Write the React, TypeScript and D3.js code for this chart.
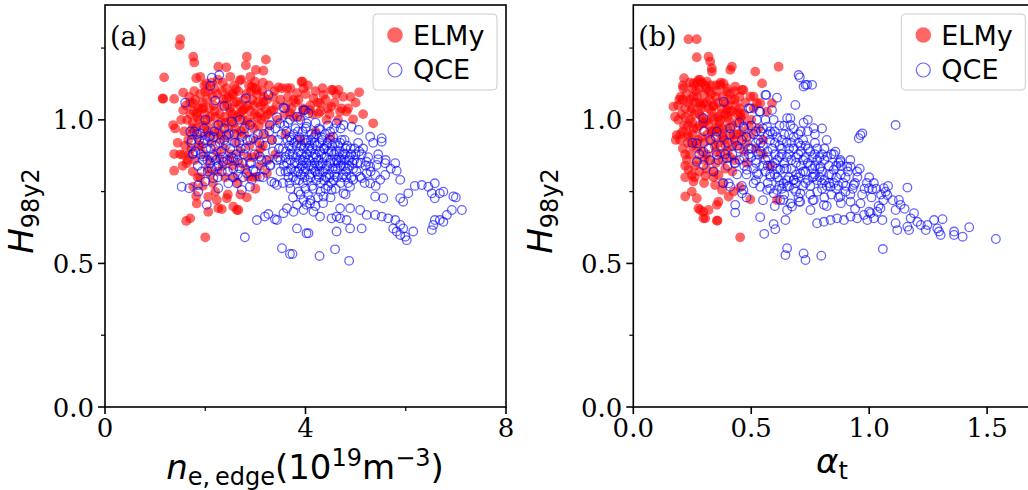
import React from 'react';
import * as d3 from 'd3';

// ---------- data ----------
const yMajor = [0, 0.5, 1.0];
const yMinor = [0.25, 0.75, 1.25];
const xMajorA = [0, 4, 8];
const xMinorA = [2, 6];
const xMajorB = [0, 0.5, 1.0, 1.5];
const legendLabels = ['ELMy', 'QCE'];

const elmyA: [number, number][] = [
  [1.50,1.281],[1.49,1.26],[1.76,1.22],[1.78,1.20],[1.18,1.148],[1.82,1.145],[2.26,1.185],[2.42,1.183],[2.83,1.22],[2.81,1.19],
  [3.21,1.21],[3.01,1.174],[3.16,1.171],[2.99,1.133],[2.69,1.137],[1.16,1.073],[1.38,1.073],[1.56,1.095],[2.00,1.098],[2.02,1.127],
  [2.61,1.107],[2.93,1.116],[3.03,1.104],[3.46,1.113],[3.63,1.110],[3.92,1.133],[3.83,1.093],[1.36,0.982],[1.76,1.058],[1.93,1.040],
  [1.83,1.023],[1.56,1.034],[2.43,1.075],[2.63,1.063],[2.50,1.029],[2.76,1.034],[3.16,1.063],[3.36,1.034],[3.09,1.023],[3.76,1.069],
  [3.96,1.034],[3.69,1.023],[1.38,0.881],[1.56,0.878],[1.63,0.849],[1.38,0.823],[1.76,0.767],[1.82,0.735],[1.83,0.709],[2.06,0.732],
  [2.23,0.721],[2.06,0.680],[2.33,0.689],[2.43,0.727],[2.56,0.698],[2.66,0.686],[2.83,0.730],[2.86,0.802],[3.03,0.802],[3.23,0.814],
  [1.70,0.657],[1.62,0.648],[2.00,0.591],[3.94,1.133],[3.96,1.110],[4.36,1.087],[4.55,1.104],[5.07,1.096],[4.16,1.075],[4.29,1.058],
  [4.52,1.046],[4.69,1.029],[4.82,1.029],[4.95,1.002],[5.35,0.988],[4.42,1.0],[4.09,1.034],[4.26,1.023],[4.66,1.104],[4.52,1.104],
  [1.15,1.075],[2.26,0.692],[2.63,0.686],
  [1.62,1.05],[1.70,1.02],[1.75,0.99],[1.80,1.07],[1.88,1.00],[1.95,1.06],[2.02,0.98],[2.08,1.04],[2.15,1.08],[2.20,1.01],
  [2.27,0.96],[2.33,1.05],[2.40,0.99],[2.47,1.08],[2.55,1.02],[2.60,0.97],[2.68,1.05],[2.75,1.00],[2.82,1.09],[2.90,1.03],
  [2.97,0.97],[3.05,1.06],[3.12,1.00],[3.20,1.04],[3.28,0.98],[1.58,0.96],[1.66,0.93],[1.72,0.90],[1.85,0.94],[1.92,0.91],
  [2.00,0.95],[2.12,0.92],[2.22,0.89],[2.30,0.93],[2.38,0.90],[2.45,0.94],[2.52,0.88],[2.62,0.92],[2.70,0.89],[2.78,0.95],
  [2.88,0.91],[2.95,0.87],[3.02,0.93],[3.10,0.90],[3.18,0.95],[1.78,1.10],[1.98,1.12],[2.18,1.11],[2.35,1.13],[2.58,1.12],
  [2.72,1.14],[3.00,1.11],[3.15,1.13],[3.35,1.08],[3.42,1.05],[3.50,1.07],[3.58,1.02],[3.65,1.08],[3.72,1.04],[3.80,1.06],
  [3.88,1.01],[4.00,1.09],[4.10,1.05],[4.20,1.10],[4.30,1.03],[4.40,1.07],[4.48,1.02],[4.58,1.06],[4.65,1.00],[4.75,1.08],
  [4.85,1.04],[5.00,1.06],[5.15,1.02],[1.50,0.88],[1.55,0.84],[1.65,0.86],[1.75,0.82],[1.90,0.80],[2.05,0.83],[2.15,0.78],
  [2.25,0.82],[2.40,0.80],[2.55,0.84],[2.65,0.78],[2.80,0.83],[2.95,0.80],[3.10,0.84],[3.25,0.86],[3.40,0.88],[1.45,0.92],
  [1.40,0.97],[1.52,1.00],[2.45,0.74],[2.20,0.75],[1.95,0.77],[2.70,0.74],[3.00,0.76],[3.60,0.95],[3.90,0.93],[4.20,0.96],[4.50,0.94],
  [1.64,1.00],[1.68,1.08],[1.73,0.95],[1.77,1.03],[1.81,0.97],[1.86,1.04],[1.90,1.09],[1.94,0.98],[1.99,1.02],[2.03,1.07],
  [2.06,0.96],[2.10,1.01],[2.13,1.13],[2.17,1.05],[2.21,0.98],[2.24,1.09],[2.29,1.02],[2.31,0.95],[2.36,1.07],[2.39,1.01],
  [2.42,1.11],[2.46,0.97],[2.49,1.04],[2.53,1.09],[2.57,0.99],[2.59,1.06],[2.64,1.01],[2.66,1.10],[2.71,0.96],[2.73,1.03],
  [2.77,1.07],[2.80,0.98],[2.85,1.05],[2.87,1.12],[2.92,0.99],[2.94,1.07],[2.99,1.02],[3.03,1.09],[3.07,0.98],[3.11,1.05],
  [3.14,1.10],[3.19,1.01],[3.23,1.07],[3.27,1.12],[3.31,1.03],[3.38,1.10],[3.44,1.00],[3.53,1.11],[3.61,1.05],[3.70,1.11],
  [3.77,1.01],[3.86,1.07],[3.95,1.04],[4.05,1.12],[4.14,1.02],[4.24,1.06],[4.34,1.11],[4.44,1.04],[4.61,1.09],[4.72,1.04],
  [4.90,1.08],[1.68,0.88],[1.79,0.86],[1.97,0.88],[2.09,0.86],[2.28,0.87],[2.48,0.86],[2.67,0.85],[2.85,0.87],[3.05,0.88],
  [1.60,0.91],[2.35,0.84],[2.58,0.80],[2.10,0.81],[1.85,0.80],[3.15,0.91],[3.33,0.93],
  [1.70,1.06],[1.84,1.01],[1.96,1.04],[2.07,1.10],[2.19,1.03],[2.32,0.99],[2.44,1.05],[2.56,1.09],[2.67,1.02],[2.79,1.04],
  [2.91,1.10],[3.04,1.01],[1.74,0.97],[1.87,0.91],[2.04,1.00],[2.16,0.95],[2.34,1.10],[2.51,1.00],[2.63,0.95],[2.84,1.00],
  [2.96,1.05],[3.17,1.08],[3.25,1.02],[2.25,1.14],[2.50,1.15],[2.90,1.15],[1.90,1.15],
];

const qceA: [number, number][] = [
  [2.13,1.147],[2.28,1.156],[2.10,1.118],[1.60,1.060],[2.20,1.067],[2.38,1.048],[2.81,1.075],[3.26,1.087],[3.56,1.042],[3.96,1.034],
  [2.00,1.000],[2.26,0.982],[2.53,0.994],[2.69,1.000],[2.89,0.982],[1.70,0.959],[1.90,0.953],[2.10,0.944],[2.43,0.947],[2.73,0.941],
  [2.96,0.936],[3.16,0.951],[3.29,0.982],[3.43,1.009],[3.49,0.988],[3.69,1.000],[3.83,1.011],[4.02,0.976],[3.59,1.040],[1.73,0.930],
  [1.96,0.918],[1.53,0.767],[1.68,0.762],[1.86,0.750],[1.86,0.773],[2.00,0.785],[2.16,0.797],[2.26,0.762],[2.46,0.779],[2.63,0.779],
  [2.73,0.756],[2.89,0.767],[2.93,0.791],[3.09,0.802],[3.19,0.826],[3.29,0.843],[3.43,0.860],[3.32,0.785],[3.43,0.773],[2.03,0.704],
  [1.76,0.884],[1.96,0.872],[2.16,0.878],[2.10,0.849],[2.23,0.837],[2.36,0.854],[2.56,0.866],[2.69,0.831],[2.89,0.849],[3.09,0.872],
  [2.96,0.826],[2.83,0.814],[3.03,0.651],[3.19,0.663],[3.26,0.672],[3.39,0.654],[3.43,0.651],[3.56,0.675],[3.63,0.692],[3.76,0.680],
  [3.83,0.704],[3.96,0.686],[4.02,0.704],[3.83,0.622],[4.02,0.605],[2.79,0.591],[3.53,0.553],[3.69,0.533],[3.74,0.533],[4.28,0.526],
  [4.59,0.549],[4.87,0.509],[3.99,1.034],[4.06,1.023],[4.62,0.988],[4.76,0.982],[4.92,0.976],[5.06,0.965],[5.29,0.941],[5.52,0.936],
  [5.52,0.924],[5.45,0.863],[5.59,0.849],[5.79,0.849],[5.22,0.854],[4.29,0.965],[4.49,0.959],[4.02,0.988],[5.82,0.823],[5.89,0.791],
  [5.59,0.808],[5.39,0.808],[5.22,0.814],[5.12,0.797],[5.29,0.779],[5.49,0.791],[5.39,0.733],[5.55,0.727],[5.89,0.727],[5.95,0.715],
  [6.05,0.744],[6.18,0.770],[6.32,0.773],[6.45,0.767],[6.58,0.779],[6.52,0.744],[6.68,0.744],[6.58,0.727],[6.75,0.750],[6.95,0.733],
  [7.00,0.730],[7.12,0.686],[6.92,0.686],[6.82,0.669],[6.68,0.651],[6.58,0.651],[6.52,0.616],[6.55,0.634],[6.75,0.645],[4.69,0.692],
  [4.89,0.692],[5.09,0.686],[5.22,0.669],[5.39,0.669],[5.52,0.663],[5.65,0.657],[5.79,0.651],[4.62,0.663],[4.52,0.657],[4.82,0.651],
  [5.12,0.622],[4.89,0.622],[4.69,0.657],[4.29,0.663],[4.16,0.680],[4.09,0.709],[3.96,0.721],[4.36,0.733],[4.52,0.756],[4.76,0.744],
  [4.89,0.767],[4.95,0.791],[5.09,0.802],[5.29,0.837],[5.42,0.843],[5.82,0.611],[5.89,0.599],[5.99,0.593],[6.02,0.581],[6.15,0.611],
  [4.06,0.605],[4.62,0.611],[5.75,0.622],[5.95,0.622],[5.89,0.634],
  [1.72,0.92],[1.80,0.89],[1.88,0.93],[1.95,0.86],[2.02,0.90],[2.08,0.94],[2.14,0.87],[2.20,0.91],[2.26,0.84],[2.32,0.89],
  [2.38,0.93],[2.44,0.86],[2.50,0.90],[2.56,0.83],[2.62,0.88],[2.68,0.92],[2.74,0.85],[2.80,0.90],[1.85,0.84],[2.05,0.82],
  [2.25,0.80],[2.45,0.82],[2.65,0.81],[1.78,0.96],[1.98,0.97],[2.18,0.96],[2.38,0.97],[2.58,0.95],[2.78,0.97],[2.90,0.93],
  [2.98,0.88],[3.05,0.95],[3.12,0.86],[3.20,0.91],[3.28,0.96],[3.35,0.89],[3.45,0.93],[3.50,0.86],[3.55,0.90],[3.60,0.82],
  [3.62,0.96],[3.68,0.88],[3.72,0.93],[3.75,0.80],[3.78,0.85],[3.82,0.91],[3.85,0.96],[3.88,0.83],[3.92,0.88],[3.95,0.78],
  [3.98,0.93],[4.02,0.85],[4.05,0.90],[4.08,0.81],[4.12,0.95],[4.15,0.87],[4.18,0.92],[4.22,0.79],[4.25,0.84],[4.28,0.89],
  [4.32,0.94],[4.35,0.82],[4.38,0.87],[4.42,0.91],[4.45,0.77],[4.48,0.85],[4.52,0.89],[4.55,0.94],[4.58,0.81],[4.62,0.86],
  [4.65,0.91],[4.70,0.84],[4.74,0.88],[4.78,0.93],[4.82,0.80],[4.86,0.86],[4.90,0.90],[4.95,0.83],[5.00,0.88],[5.05,0.92],
  [5.10,0.85],[3.90,0.74],[4.10,0.72],[4.30,0.75],[4.50,0.73],[4.20,0.70],[4.00,0.76],[3.70,0.76],[3.55,0.78],[4.60,0.76],
  [4.80,0.74],[3.40,0.97],[3.65,0.99],[3.90,1.00],[4.20,0.99],[4.45,0.98],[4.70,0.97],[5.15,0.90],[5.25,0.87],[5.35,0.92],
  [5.45,0.88],[5.30,0.82],[5.60,0.86],[5.70,0.83],[5.18,0.78],[5.40,0.77],[3.00,0.82],[3.15,0.80],[3.30,0.84],[3.38,0.78],
  [3.47,0.90],[3.52,0.95],[3.57,0.84],[3.61,0.89],[3.64,0.93],[3.66,0.80],[3.70,0.86],[3.73,0.90],[3.76,0.95],[3.79,0.82],
  [3.81,0.87],[3.84,0.93],[3.87,0.79],[3.89,0.86],[3.91,0.91],[3.94,0.96],[3.97,0.82],[3.99,0.87],[4.01,0.92],[4.04,0.79],
  [4.06,0.84],[4.09,0.89],[4.11,0.93],[4.13,0.77],[4.16,0.83],[4.19,0.88],[4.21,0.95],[4.24,0.81],[4.26,0.86],[4.29,0.92],
  [4.31,0.78],[4.34,0.85],[4.36,0.90],[4.39,0.95],[4.41,0.80],[4.43,0.84],[4.46,0.89],[4.49,0.93],[4.51,0.78],[4.54,0.83],
  [4.57,0.88],[4.59,0.92],[4.63,0.80],[4.66,0.85],[4.68,0.89],[4.72,0.93],[4.75,0.81],[4.77,0.86],[4.80,0.90],[4.84,0.83],
  [4.88,0.87],[4.92,0.80],[4.97,0.86],[5.02,0.82],[5.07,0.89],[3.58,0.98],[3.80,0.97],[4.00,0.97],[4.27,0.97],[4.57,0.97],
  [3.68,0.78],[3.86,0.75],[4.05,0.74],[4.25,0.73],[4.40,0.76],[4.70,0.78],[4.15,0.76],[3.75,0.73],[4.35,0.71],
  [1.75,0.88],[1.83,0.95],[1.91,0.88],[1.99,0.93],[2.04,0.86],[2.11,0.90],[2.17,0.94],[2.22,0.86],[2.29,0.92],[2.35,0.87],
  [2.41,0.91],[2.47,0.95],[2.53,0.87],[2.59,0.92],[2.65,0.86],[2.71,0.90],[2.77,0.88],[2.84,0.93],[1.93,0.82],[2.13,0.83],
  [2.33,0.82],[2.55,0.80],[2.75,0.80],[2.92,0.85],[3.08,0.92],[3.22,0.86],[3.33,0.93],
  [3.63,0.85],[3.67,0.91],[3.71,0.83],[3.74,0.88],[3.77,0.92],[3.80,0.79],[3.83,0.85],[3.86,0.89],[3.88,0.94],[3.90,0.81],
  [3.93,0.84],[3.96,0.90],[3.98,0.80],[4.00,0.83],[4.03,0.88],[4.05,0.93],[4.07,0.86],[4.10,0.80],[4.12,0.84],[4.14,0.90],
  [4.17,0.94],[4.20,0.82],[4.22,0.87],[4.23,0.91],[4.27,0.80],[4.30,0.84],[4.32,0.88],[4.33,0.93],[4.37,0.79],[4.40,0.83],
  [4.42,0.87],[4.44,0.92],[4.47,0.81],[4.50,0.86],[4.53,0.91],[4.56,0.79],[4.58,0.85],[4.61,0.89],[4.64,0.83],[4.67,0.87],
  [4.69,0.92],[4.73,0.80],[4.76,0.84],[4.79,0.88],[4.83,0.91],[4.85,0.78],[4.87,0.84],[4.91,0.88],[4.94,0.85],[4.98,0.90],
  [3.60,0.87],[3.65,0.82],[3.69,0.94],[3.85,0.82],[3.95,0.86],[4.08,0.91],[4.18,0.85],[4.28,0.82],[4.38,0.90],[4.48,0.80],
  [4.60,0.83],[4.71,0.86],[4.81,0.82],[3.50,0.82],[3.45,0.87],[5.03,0.85],[5.12,0.88],[5.20,0.84],
];

const elmyB: [number, number][] = [
  [0.234,1.281],[0.269,1.281],[0.319,1.22],[0.326,1.203],[0.333,1.180],[0.333,1.168],[0.269,1.218],[0.418,1.185],[0.411,1.174],[0.517,1.168],
  [0.616,1.185],[0.215,1.145],[0.212,1.110],[0.276,1.139],[0.312,1.133],[0.368,1.122],[0.397,1.098],[0.461,1.104],[0.510,1.081],[0.538,1.058],
  [0.567,1.029],[0.588,1.058],[0.170,1.046],[0.184,0.947],[0.198,0.930],[0.227,0.860],[0.220,0.733],[0.248,0.750],[0.283,0.686],[0.305,0.657],
  [0.354,0.649],[0.453,0.591],[0.496,0.723],[0.609,0.721],[0.546,1.127],[0.177,1.011],[0.255,1.127],[0.283,1.139],[0.383,1.127],[0.432,1.116],
  [0.467,1.104],[0.496,1.081],[0.524,1.058],[0.255,1.081],[0.297,1.058],[0.340,1.046],[0.397,1.034],[0.453,1.023],[0.234,0.826],[0.248,0.808],
  [0.255,0.785],[0.305,0.805],[0.340,0.820],[0.361,0.808],[0.347,0.773],[0.376,0.756],[0.383,0.779],[0.269,0.727],[0.276,0.692],[0.297,0.680],
  [0.319,0.686],[0.297,0.657],[0.354,0.704],[0.361,0.715],[0.404,0.733],[0.425,0.750],[0.453,0.765],[0.357,0.649],
  [0.20,1.08],[0.22,1.04],[0.24,1.00],[0.26,1.06],[0.28,1.02],[0.30,1.09],[0.32,0.98],[0.34,1.05],[0.36,1.01],[0.38,1.08],
  [0.40,0.97],[0.42,1.03],[0.44,0.99],[0.21,0.96],[0.23,0.92],[0.25,0.95],[0.27,0.90],[0.29,0.94],[0.31,0.88],[0.33,0.93],
  [0.35,0.89],[0.37,0.95],[0.39,0.91],[0.41,0.87],[0.43,0.93],[0.46,0.96],[0.48,0.92],[0.19,1.00],[0.18,0.93],[0.25,1.11],
  [0.29,1.13],[0.33,1.12],[0.37,1.13],[0.27,0.86],[0.31,0.83],[0.35,0.85],[0.39,0.83],[0.43,0.86],[0.24,0.88],[0.22,0.84],
  [0.26,0.80],[0.30,0.78],[0.28,0.98],[0.32,1.04],[0.36,0.97],[0.40,1.05],[0.23,1.06],[0.45,1.08],[0.47,1.02],[0.50,0.95],
  [0.52,0.90],[0.48,0.85],[0.55,0.88],[0.58,0.84],[0.50,1.00],
  [0.205,1.02],[0.215,0.98],[0.225,1.09],[0.235,0.94],[0.245,1.03],[0.255,0.97],[0.265,1.10],[0.275,0.93],[0.285,1.05],[0.295,0.99],
  [0.305,1.12],[0.315,0.95],[0.325,1.07],[0.335,1.01],[0.345,0.91],[0.355,1.10],[0.365,0.99],[0.375,1.04],[0.385,0.93],[0.395,1.11],
  [0.405,1.00],[0.415,1.07],[0.425,0.95],[0.435,1.05],[0.445,0.91],[0.455,1.01],[0.465,0.94],[0.475,1.06],[0.21,0.90],[0.23,0.98],
  [0.25,1.04],[0.27,1.08],[0.29,0.89],[0.31,1.00],[0.33,1.09],[0.35,0.97],[0.37,0.88],[0.39,1.02],[0.41,0.94],[0.43,1.10],
  [0.24,1.13],[0.28,1.11],[0.32,0.86],[0.36,1.06],[0.40,0.89],[0.44,1.02],[0.20,0.95],[0.26,0.84],[0.34,0.80],[0.22,0.80],
  [0.28,0.82],[0.42,0.82],[0.38,0.86],[0.30,0.86],[0.19,1.05],[0.49,0.98],[0.51,1.04],[0.53,0.97],[0.47,0.89],[0.55,0.93],
  [0.195,1.07],[0.21,1.12],[0.22,1.01],[0.23,0.95],[0.24,1.07],[0.25,0.91],[0.26,1.02],[0.27,0.97],[0.28,1.06],[0.29,1.01],
  [0.30,0.92],[0.31,1.06],[0.32,1.10],[0.33,0.96],[0.34,1.00],[0.35,1.08],[0.36,0.92],[0.37,1.02],[0.38,0.97],[0.39,1.06],
  [0.40,1.01],[0.41,1.09],[0.42,0.98],[0.43,1.07],[0.44,0.95],[0.45,1.04],[0.46,1.00],[0.22,0.88],[0.26,0.92],[0.30,0.99],
  [0.34,0.96],[0.38,0.94],[0.42,0.91],[0.27,1.13],[0.31,1.11],[0.35,1.12],[0.21,1.07],[0.25,0.99],[0.29,1.04],[0.33,1.03],
  [0.37,1.00],[0.41,1.03],
];

const qceB: [number, number][] = [
  [0.701,1.156],[0.706,1.148],[0.737,1.122],[0.758,1.122],[0.722,1.116],[0.730,1.122],[0.564,1.087],[0.609,1.077],[0.687,1.052],[0.535,1.029],
  [0.496,1.040],[0.297,1.006],[0.297,0.889],[1.112,0.982],[0.963,0.947],[0.971,0.953],[0.956,0.936],[0.722,0.990],[0.765,0.971],[0.666,1.006],
  [0.666,0.982],[0.857,0.889],[0.822,0.872],[0.878,0.860],[0.921,0.837],[0.383,1.063],[0.489,1.040],[0.538,1.029],[0.560,1.087],[0.588,1.034],
  [0.595,1.000],[0.354,0.959],[0.411,0.971],[0.467,0.976],[0.524,1.000],[0.567,0.976],[0.652,1.006],[0.269,0.918],[0.326,0.930],[0.297,0.843],
  [0.404,0.779],[0.411,0.767],[0.461,0.744],[0.467,0.756],[0.432,0.704],[0.432,0.677],[0.538,0.661],[0.595,0.637],[0.602,0.619],[0.555,0.603],
  [0.645,0.651],[0.652,0.553],[0.645,0.529],[0.269,0.854],[0.326,0.860],[0.354,0.878],[0.397,0.866],[0.432,0.849],[0.482,0.826],[0.510,0.779],
  [0.538,0.767],[0.567,0.756],[0.595,0.744],[0.623,0.721],[0.524,0.814],[0.581,0.802],[0.623,0.826],[0.637,0.779],[0.609,0.756],[0.935,0.773],
  [0.999,0.762],[1.013,0.758],[1.062,0.762],[1.070,0.750],[1.077,0.738],[1.162,0.764],[1.126,0.721],[1.133,0.704],[1.112,0.686],[1.048,0.692],
  [1.034,0.680],[1.006,0.675],[0.978,0.669],[0.949,0.657],[0.921,0.663],[0.893,0.651],[0.864,0.657],[0.836,0.651],[0.808,0.645],[0.779,0.640],
  [0.751,0.686],[0.708,0.715],[0.673,0.698],[0.652,0.686],[1.190,0.675],[1.176,0.657],[1.204,0.645],[1.169,0.616],[1.162,0.628],[1.119,0.616],
  [1.112,0.640],[1.247,0.634],[1.275,0.651],[1.311,0.654],[1.289,0.622],[1.303,0.599],[1.296,0.611],[1.360,0.611],[1.396,0.593],[1.360,0.599],
  [1.424,0.626],[1.537,0.585],[1.240,0.616],[1.219,0.634],[1.056,0.651],[1.020,0.657],[0.992,0.651],[0.722,0.535],[0.730,0.512],[0.797,0.527],
  [1.058,0.550],[0.949,0.820],[0.907,0.837],[0.878,0.854],[0.850,0.826],[0.793,0.837],[0.765,0.802],[0.708,0.814],[0.680,0.791],[0.652,0.767],
  [0.637,0.721],[0.836,0.767],[0.878,0.733],[0.921,0.715],[0.963,0.709],[0.808,0.704],[0.765,0.721],[0.708,0.744],[0.666,0.709],[0.703,0.715],
  [0.45,0.90],[0.48,0.94],[0.50,0.87],[0.52,0.92],[0.54,0.96],[0.55,0.84],[0.57,0.89],[0.58,0.93],[0.60,0.81],[0.61,0.86],
  [0.62,0.91],[0.64,0.95],[0.65,0.83],[0.66,0.88],[0.68,0.79],[0.69,0.85],[0.70,0.92],[0.72,0.82],[0.73,0.87],[0.74,0.96],
  [0.76,0.80],[0.77,0.84],[0.78,0.90],[0.80,0.78],[0.81,0.86],[0.82,0.93],[0.84,0.81],[0.85,0.88],[0.87,0.77],[0.88,0.84],
  [0.90,0.80],[0.92,0.86],[0.94,0.78],[0.96,0.83],[0.98,0.76],[1.00,0.80],[1.02,0.78],[1.05,0.74],[1.08,0.77],[0.50,0.98],
  [0.56,1.00],[0.62,0.98],[0.68,0.97],[0.74,1.00],[0.80,0.97],[0.42,0.88],[0.40,0.84],[0.44,0.81],[0.36,0.86],[0.32,0.90],
  [0.28,0.88],[0.34,0.82],[0.38,0.78],[0.46,0.77],[0.52,0.79],[0.58,0.76],[0.64,0.74],[0.70,0.73],[0.76,0.72],[0.82,0.70],
  [0.88,0.71],[0.94,0.69],[1.00,0.68],[1.04,0.70],[1.10,0.72],[1.15,0.69],[0.25,0.92],[0.30,0.96],[0.35,0.94],[0.40,0.92],
  [0.45,0.99],[0.52,0.85],[0.60,0.88],[0.66,0.80],[0.72,0.77],[0.78,0.75],[0.84,0.74],[0.90,0.75],[0.60,0.70],[0.55,0.72],[0.48,0.73],
  [0.46,0.93],[0.47,0.87],[0.49,0.90],[0.51,0.95],[0.51,0.83],[0.53,0.88],[0.54,0.92],[0.56,0.86],[0.57,0.95],[0.58,0.81],
  [0.59,0.90],[0.60,0.85],[0.61,0.94],[0.62,0.79],[0.63,0.88],[0.64,0.83],[0.65,0.92],[0.66,0.77],[0.67,0.86],[0.68,0.90],
  [0.69,0.81],[0.70,0.88],[0.71,0.84],[0.72,0.93],[0.73,0.78],[0.74,0.85],[0.75,0.89],[0.76,0.83],[0.77,0.92],[0.78,0.79],
  [0.79,0.87],[0.80,0.82],[0.81,0.90],[0.82,0.77],[0.83,0.84],[0.84,0.88],[0.86,0.80],[0.87,0.85],[0.89,0.78],[0.91,0.82],
  [0.93,0.76],[0.95,0.80],[0.97,0.74],[0.99,0.78],[1.01,0.73],[1.03,0.76],[1.06,0.72],[0.53,0.81],[0.57,0.78],[0.63,0.76],
  [0.69,0.75],[0.75,0.74],[0.81,0.73],[0.87,0.73],[0.55,0.97],[0.60,0.96],[0.66,0.95],[0.71,0.96],[0.77,0.95],[0.48,0.81],
  [0.43,0.85],[0.39,0.88],[0.37,0.91],[0.41,0.95],[0.47,0.97],
  [0.50,0.90],[0.52,0.86],[0.53,0.93],[0.55,0.91],[0.56,0.82],[0.57,0.87],[0.58,0.96],[0.59,0.84],[0.60,0.92],[0.61,0.80],
  [0.62,0.87],[0.63,0.93],[0.64,0.85],[0.65,0.79],[0.66,0.90],[0.67,0.83],[0.68,0.94],[0.69,0.87],[0.70,0.80],[0.71,0.91],
  [0.72,0.86],[0.73,0.82],[0.74,0.90],[0.75,0.77],[0.76,0.87],[0.77,0.81],[0.78,0.86],[0.79,0.83],[0.80,0.88],[0.81,0.79],
  [0.83,0.81],[0.85,0.78],[0.86,0.84],[0.88,0.81],[0.90,0.77],[0.54,0.89],[0.59,0.95],[0.63,0.90],[0.67,0.92],[0.71,0.89],
  [0.75,0.84],[0.79,0.80],[0.83,0.78],[0.57,0.84],[0.61,0.83],[0.65,0.87],[0.69,0.78],[0.73,0.91],[0.77,0.88],[0.49,0.88],
  [0.47,0.84],[0.45,0.86],[0.44,0.91],[0.52,0.96],[0.64,0.98],[0.70,0.95],[0.62,0.77],[0.68,0.76],[0.74,0.79],[0.80,0.76],
  [0.86,0.76],[0.92,0.74],
];

// ---------- layout ----------
const W = 1028, H = 490;
const TOP = 5, BOTTOM = 407, PW = 401;
const SERIF = '"DejaVu Serif", serif';
const SANS = '"DejaVu Sans", sans-serif';
const RED = '#ff0000', BLUE = '#0000ff';

type PanelProps = {
  left: number;
  xMax: number;
  xMajor: number[];
  xMinor: number[];
  xFmt: (v: number) => string;
  elmy: [number, number][];
  qce: [number, number][];
  tag: string;
  yLabelX: number;
  xLabel: React.ReactNode;
};

function Panel(p: PanelProps) {
  const x = d3.scaleLinear().domain([0, p.xMax]).range([p.left, p.left + PW]);
  const y = d3.scaleLinear().domain([0, 1.4]).range([BOTTOM, TOP]);
  const right = p.left + PW;
  const fmtY = d3.format('.1f');
  const legX = right - 9 - 124;
  return (
    <g>
      <g>
        {p.elmy.map((d, i) => (
          <circle key={'e' + i} cx={x(d[0])} cy={y(d[1])} r={4.9} fill={RED} fillOpacity={0.6} />
        ))}
      </g>
      <g>
        {p.qce.map((d, i) => (
          <circle key={'q' + i} cx={x(d[0])} cy={y(d[1])} r={4.3} fill="none" stroke={BLUE} strokeOpacity={0.6} strokeWidth={1.3} />
        ))}
      </g>
      <rect x={p.left} y={TOP} width={PW} height={BOTTOM - TOP} fill="none" stroke="#000" strokeWidth={1.6} />
      {p.xMajor.map((v) => (
        <g key={'xt' + v}>
          <line x1={x(v)} x2={x(v)} y1={BOTTOM} y2={BOTTOM + 7} stroke="#000" strokeWidth={1.6} />
          <text x={x(v)} y={437} textAnchor="middle" fontFamily={SERIF} fontSize={26} fill="#000">{p.xFmt(v)}</text>
        </g>
      ))}
      {p.xMinor.map((v) => (
        <line key={'xm' + v} x1={x(v)} x2={x(v)} y1={BOTTOM} y2={BOTTOM + 4} stroke="#000" strokeWidth={1.2} />
      ))}
      {yMajor.map((v) => (
        <g key={'yt' + v}>
          <line x1={p.left - 7} x2={p.left} y1={y(v)} y2={y(v)} stroke="#000" strokeWidth={1.6} />
          <text x={p.left - 11} y={y(v) + 9.5} textAnchor="end" fontFamily={SERIF} fontSize={26} fill="#000">{fmtY(v)}</text>
        </g>
      ))}
      {yMinor.map((v) => (
        <line key={'ym' + v} x1={p.left - 4} x2={p.left} y1={y(v)} y2={y(v)} stroke="#000" strokeWidth={1.2} />
      ))}
      <text x={p.left + 5} y={46} fontFamily={SERIF} fontSize={27} fill="#000">{p.tag}</text>
      <text transform={`translate(${p.yLabelX},211) rotate(-90)`} textAnchor="middle" fontFamily={SANS} fill="#000">
        <tspan fontSize={34} fontStyle="italic">H</tspan>
        <tspan fontSize={24} dy={6}>98y2</tspan>
      </text>
      {p.xLabel}
      <rect x={legX} y={14} width={124} height={76} rx={4} fill="#fff" fillOpacity={0.8} stroke="#cccccc" strokeWidth={1} />
      <circle cx={legX + 22} cy={35} r={7.8} fill={RED} fillOpacity={0.6} />
      <circle cx={legX + 22} cy={70} r={7} fill="none" stroke={BLUE} strokeOpacity={0.6} strokeWidth={1.2} />
      <text x={legX + 40} y={44.5} fontFamily={SANS} fontSize={27} fill="#000">{legendLabels[0]}</text>
      <text x={legX + 40} y={79} fontFamily={SANS} fontSize={27} fill="#000">{legendLabels[1]}</text>
    </g>
  );
}

export default function App() {
  const xLabelA = (
    <text x={305} y={479} textAnchor="middle" fontFamily={SANS} fill="#000">
      <tspan fontSize={34} fontStyle="italic">n</tspan>
      <tspan fontSize={24} dy={6}>e,&#8201;edge</tspan>
      <tspan fontSize={34} dy={-6}>(10</tspan>
      <tspan fontSize={24} dy={-13}>19</tspan>
      <tspan fontSize={34} dy={13}>m</tspan>
      <tspan fontSize={24} dy={-13}>−3</tspan>
      <tspan fontSize={34} dy={13}>)</tspan>
    </text>
  );
  const xLabelB = (
    <text x={832} y={473} textAnchor="middle" fontFamily={SANS} fill="#000">
      <tspan fontSize={34} fontStyle="italic">α</tspan>
      <tspan fontSize={24} dy={6}>t</tspan>
    </text>
  );
  return (
    <svg width={W} height={H} style={{ position: 'absolute', left: 0, top: 0, background: '#fff' }}>
      <rect x={0} y={0} width={W} height={H} fill="#fff" />
      <Panel left={105} xMax={8} xMajor={xMajorA} xMinor={xMinorA} xFmt={(v) => String(v)}
        elmy={elmyA} qce={qceA} tag="(a)" yLabelX={33} xLabel={xLabelA} />
      <Panel left={633.3} xMax={1.7} xMajor={xMajorB} xMinor={[]} xFmt={d3.format('.1f')}
        elmy={elmyB} qce={qceB} tag="(b)" yLabelX={552} xLabel={xLabelB} />
    </svg>
  );
}
